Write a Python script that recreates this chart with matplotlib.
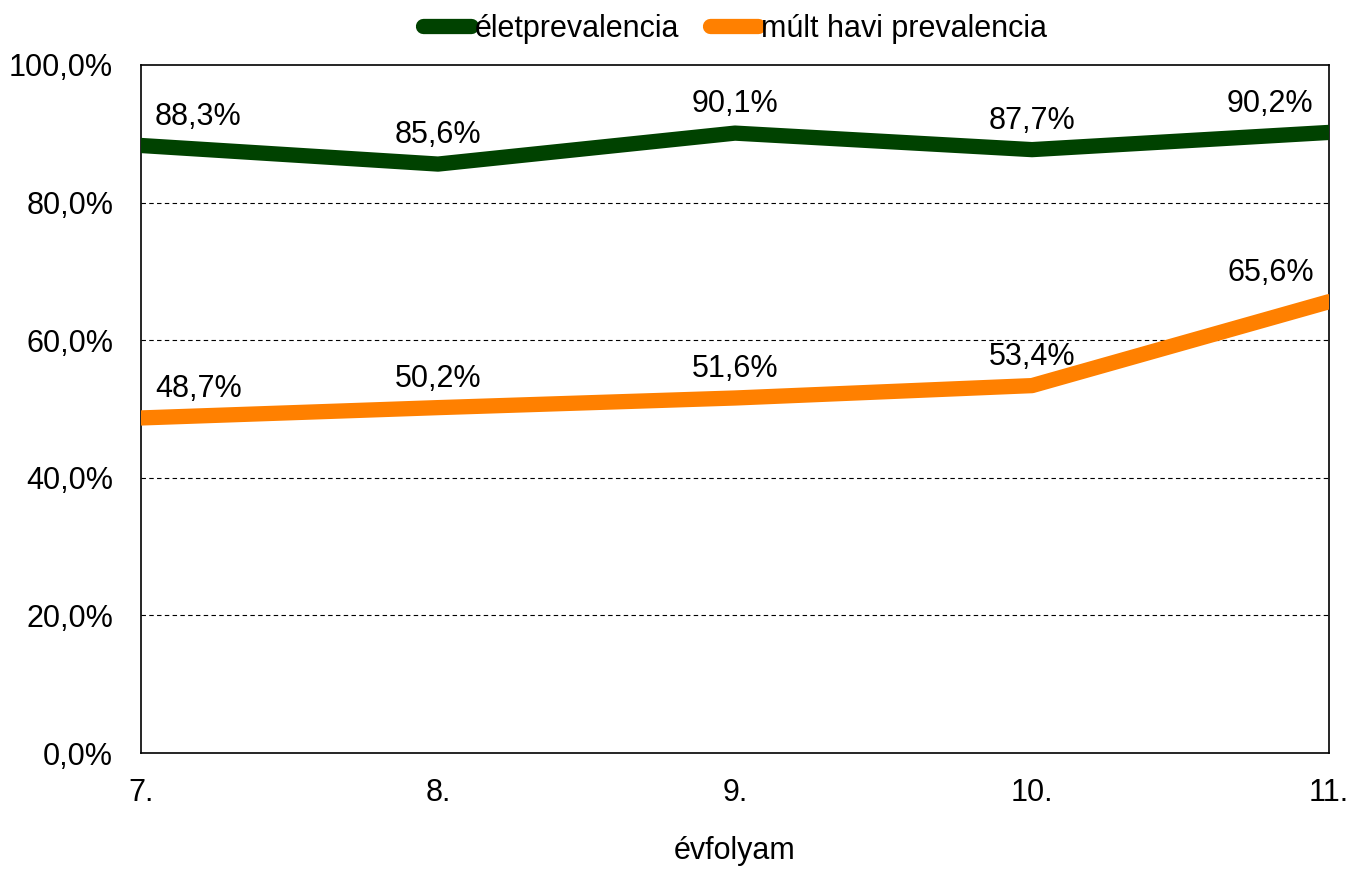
import matplotlib.pyplot as plt

plt.rcParams['font.family'] = ['Liberation Sans', 'DejaVu Sans']

grades = ['7.', '8.', '9.', '10.', '11.']
lifetime = [88.3, 85.6, 90.1, 87.7, 90.2]
last_month = [48.7, 50.2, 51.6, 53.4, 65.6]

green = '#004200'
orange = '#FF8000'

fig = plt.figure(figsize=(13.52, 8.76), dpi=100)
ax = fig.add_axes([0.1043, 0.1404, 0.8787, 0.7854])

x = list(range(len(grades)))
ax.plot(x, lifetime, color=green, lw=11, solid_capstyle='round', label='életprevalencia', zorder=3)
ax.plot(x, last_month, color=orange, lw=11, solid_capstyle='round', label='múlt havi prevalencia', zorder=3)

for series in (lifetime, last_month):
    for i, v in enumerate(series):
        if i == 0:
            ha, dx = 'left', 10
        elif i == len(series) - 1:
            ha, dx = 'right', -11
        else:
            ha, dx = 'center', 0
        ax.annotate(f'{v:.1f}%'.replace('.', ','), (i, v), xytext=(dx, 10),
                    textcoords='offset points', ha=ha, va='bottom', fontsize=22, zorder=4)

ax.set_xlim(0, len(grades) - 1)
ax.set_ylim(0, 100)
ax.set_xticks(x)
ax.set_xticklabels(grades)
ax.set_yticks(range(0, 101, 20))
ax.set_yticklabels([f'{t},0%' for t in range(0, 101, 20)])
ax.tick_params(length=0, labelsize=22)
ax.tick_params(axis='x', pad=18)
ax.tick_params(axis='y', pad=20)

for t in (20, 40, 60, 80):
    ax.axhline(t, color='black', lw=0.8, ls=(0, (4, 3)), zorder=1)

for key, spine in ax.spines.items():
    spine.set_color('black')
    spine.set_linewidth(1.2)

ax.set_xlabel('évfolyam', fontsize=22, labelpad=20)

ax.legend(loc='lower center', bbox_to_anchor=(0.5, 1.013), ncol=2, frameon=False,
          fontsize=22, handlelength=1.6, handletextpad=0.1, columnspacing=1.0,
          borderaxespad=0.0)

fig.savefig('out.png', dpi=100)
